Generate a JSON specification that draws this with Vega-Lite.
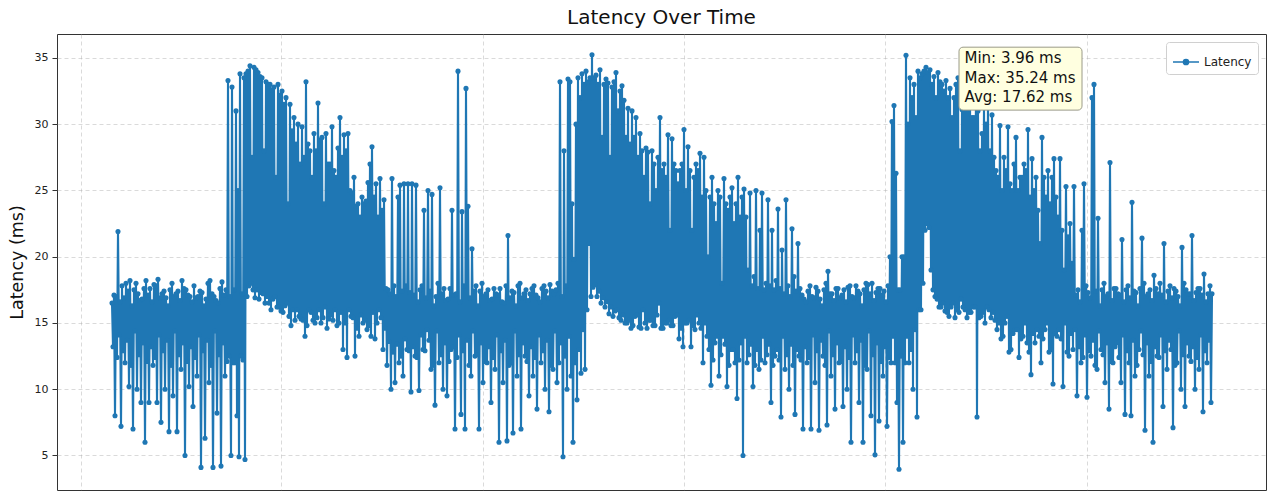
{
"$schema": "https://vega.github.io/schema/vega-lite/v6.json",
"width": 1209,
"height": 456,
"autosize": {"type": "none"},
"padding": {"left": 57, "top": 34, "right": 2, "bottom": 1},
"background": "white",
"title": {"text": "Latency Over Time", "fontSize": 20, "fontWeight": "normal", "anchor": "middle", "offset": 6, "color": "#111", "font": "DejaVu Sans"},
"config": {
  "font": "DejaVu Sans",
  "view": {"stroke": "#333", "strokeWidth": 1},
  "axis": {"domain": false, "gridColor": "#b0b0b0", "gridDash": [4, 3], "gridOpacity": 0.6, "gridWidth": 0.8, "tickColor": "#333", "tickSize": 5, "labelPadding": 4, "labelColor": "#222", "labelFontSize": 11, "titleFontWeight": "normal", "titleColor": "#111"}
},
"layer": [
{
"data": {"values": [
{"t":0,"ms":16.5},{"t":1,"ms":13.2},{"t":2,"ms":17.1},{"t":3,"ms":8.0},{"t":4,"ms":17.0},{"t":5,"ms":12.4},{"t":6,"ms":21.9},{"t":7,"ms":14.1},{"t":8,"ms":16.6},{"t":9,"ms":7.2},
{"t":10,"ms":17.8},{"t":11,"ms":12.9},{"t":12,"ms":16.9},{"t":13,"ms":12.0},{"t":14,"ms":18.0},{"t":15,"ms":13.7},{"t":16,"ms":17.4},{"t":17,"ms":10.2},{"t":18,"ms":18.2},{"t":19,"ms":11.8},
{"t":20,"ms":16.3},{"t":21,"ms":7.0},{"t":22,"ms":17.5},{"t":23,"ms":14.4},{"t":24,"ms":18.0},{"t":25,"ms":10.0},{"t":26,"ms":17.2},{"t":27,"ms":12.6},{"t":28,"ms":16.7},{"t":29,"ms":9.0},
{"t":30,"ms":16.8},{"t":31,"ms":13.5},{"t":32,"ms":17.6},{"t":33,"ms":6.0},{"t":34,"ms":18.2},{"t":35,"ms":12.1},{"t":36,"ms":17.1},{"t":37,"ms":9.0},{"t":38,"ms":17.6},{"t":39,"ms":13.2},
{"t":40,"ms":16.6},{"t":41,"ms":11.8},{"t":42,"ms":17.9},{"t":43,"ms":12.4},{"t":44,"ms":17.8},{"t":45,"ms":9.0},{"t":46,"ms":18.3},{"t":47,"ms":14.1},{"t":48,"ms":16.9},{"t":49,"ms":7.5},
{"t":50,"ms":17.2},{"t":51,"ms":12.9},{"t":52,"ms":17.4},{"t":53,"ms":10.0},{"t":54,"ms":16.9},{"t":55,"ms":13.7},{"t":56,"ms":16.3},{"t":57,"ms":6.8},{"t":58,"ms":17.5},{"t":59,"ms":11.8},
{"t":60,"ms":18.0},{"t":61,"ms":9.5},{"t":62,"ms":17.0},{"t":63,"ms":14.4},{"t":64,"ms":17.2},{"t":65,"ms":6.8},{"t":66,"ms":17.4},{"t":67,"ms":12.6},{"t":68,"ms":16.7},{"t":69,"ms":11.5},
{"t":70,"ms":18.2},{"t":71,"ms":13.5},{"t":72,"ms":17.6},{"t":73,"ms":5.0},{"t":74,"ms":17.5},{"t":75,"ms":12.1},{"t":76,"ms":17.1},{"t":77,"ms":10.2},{"t":78,"ms":17.0},{"t":79,"ms":13.2},
{"t":80,"ms":16.6},{"t":81,"ms":8.7},{"t":82,"ms":17.8},{"t":83,"ms":12.4},{"t":84,"ms":16.9},{"t":85,"ms":11.0},{"t":86,"ms":17.0},{"t":87,"ms":14.1},{"t":88,"ms":17.4},{"t":89,"ms":4.1},
{"t":90,"ms":17.3},{"t":91,"ms":12.9},{"t":92,"ms":16.3},{"t":93,"ms":6.3},{"t":94,"ms":16.8},{"t":95,"ms":13.7},{"t":96,"ms":18.0},{"t":97,"ms":10.5},{"t":98,"ms":18.2},{"t":99,"ms":11.8},
{"t":100,"ms":17.2},{"t":101,"ms":4.1},{"t":102,"ms":17.0},{"t":103,"ms":14.4},{"t":104,"ms":16.7},{"t":105,"ms":8.2},{"t":106,"ms":16.5},{"t":107,"ms":12.6},{"t":108,"ms":17.6},{"t":109,"ms":4.2},
{"t":110,"ms":18.1},{"t":111,"ms":13.5},{"t":112,"ms":17.1},{"t":113,"ms":11.0},{"t":114,"ms":17.5},{"t":115,"ms":12.1},{"t":116,"ms":33.3},{"t":117,"ms":12.5},{"t":118,"ms":17.0},{"t":119,"ms":5.0},
{"t":120,"ms":32.8},{"t":121,"ms":12.0},{"t":122,"ms":17.5},{"t":123,"ms":12.0},{"t":124,"ms":31.0},{"t":125,"ms":8.0},{"t":126,"ms":25.0},{"t":127,"ms":4.9},{"t":128,"ms":33.8},{"t":129,"ms":12.5},
{"t":130,"ms":17.2},{"t":131,"ms":12.2},{"t":132,"ms":33.5},{"t":133,"ms":4.7},{"t":134,"ms":33.8},{"t":135,"ms":17.0},{"t":136,"ms":34.0},{"t":137,"ms":17.8},{"t":138,"ms":34.4},{"t":139,"ms":18.0},
{"t":140,"ms":27.5},{"t":141,"ms":17.5},{"t":142,"ms":34.3},{"t":143,"ms":16.9},{"t":144,"ms":34.1},{"t":145,"ms":17.5},{"t":146,"ms":33.9},{"t":147,"ms":16.8},{"t":148,"ms":33.6},{"t":149,"ms":17.3},
{"t":150,"ms":33.5},{"t":151,"ms":17.2},{"t":152,"ms":28.0},{"t":153,"ms":16.5},{"t":154,"ms":33.2},{"t":155,"ms":17.0},{"t":156,"ms":33.0},{"t":157,"ms":16.5},{"t":158,"ms":33.0},{"t":159,"ms":16.0},
{"t":160,"ms":32.6},{"t":161,"ms":16.8},{"t":162,"ms":32.8},{"t":163,"ms":17.0},{"t":164,"ms":26.0},{"t":165,"ms":16.2},{"t":166,"ms":33.0},{"t":167,"ms":16.2},{"t":168,"ms":32.2},{"t":169,"ms":15.9},
{"t":170,"ms":32.5},{"t":171,"ms":15.8},{"t":172,"ms":31.5},{"t":173,"ms":16.3},{"t":174,"ms":32.0},{"t":175,"ms":16.5},{"t":176,"ms":24.0},{"t":177,"ms":15.5},{"t":178,"ms":31.5},{"t":179,"ms":14.8},
{"t":180,"ms":29.5},{"t":181,"ms":16.0},{"t":182,"ms":30.5},{"t":183,"ms":15.2},{"t":184,"ms":28.5},{"t":185,"ms":16.0},{"t":186,"ms":30.0},{"t":187,"ms":15.5},{"t":188,"ms":27.0},{"t":189,"ms":15.3},
{"t":190,"ms":29.8},{"t":191,"ms":15.2},{"t":192,"ms":27.5},{"t":193,"ms":14.0},{"t":194,"ms":33.2},{"t":195,"ms":14.8},{"t":196,"ms":28.5},{"t":197,"ms":16.0},{"t":198,"ms":28.0},{"t":199,"ms":15.8},
{"t":200,"ms":26.0},{"t":201,"ms":15.2},{"t":202,"ms":29.3},{"t":203,"ms":15.0},{"t":204,"ms":28.0},{"t":205,"ms":15.4},{"t":206,"ms":31.6},{"t":207,"ms":16.0},{"t":208,"ms":28.8},{"t":209,"ms":15.0},
{"t":210,"ms":29.0},{"t":211,"ms":15.4},{"t":212,"ms":24.0},{"t":213,"ms":16.2},{"t":214,"ms":29.3},{"t":215,"ms":14.6},{"t":216,"ms":27.0},{"t":217,"ms":15.3},{"t":218,"ms":27.0},{"t":219,"ms":15.6},
{"t":220,"ms":29.8},{"t":221,"ms":15.2},{"t":222,"ms":26.5},{"t":223,"ms":16.0},{"t":224,"ms":26.0},{"t":225,"ms":14.8},{"t":226,"ms":28.2},{"t":227,"ms":15.0},{"t":228,"ms":30.5},{"t":229,"ms":15.8},
{"t":230,"ms":27.5},{"t":231,"ms":13.0},{"t":232,"ms":29.2},{"t":233,"ms":15.0},{"t":234,"ms":28.0},{"t":235,"ms":12.4},{"t":236,"ms":29.3},{"t":237,"ms":16.0},{"t":238,"ms":25.0},{"t":239,"ms":15.5},
{"t":240,"ms":24.8},{"t":241,"ms":15.4},{"t":242,"ms":26.0},{"t":243,"ms":12.5},{"t":244,"ms":23.8},{"t":245,"ms":14.6},{"t":246,"ms":24.0},{"t":247,"ms":14.0},{"t":248,"ms":23.0},{"t":249,"ms":15.6},
{"t":250,"ms":24.5},{"t":251,"ms":15.0},{"t":252,"ms":24.0},{"t":253,"ms":15.2},{"t":254,"ms":24.2},{"t":255,"ms":14.5},{"t":256,"ms":25.6},{"t":257,"ms":14.8},{"t":258,"ms":27.0},{"t":259,"ms":14.0},
{"t":260,"ms":28.3},{"t":261,"ms":15.8},{"t":262,"ms":24.5},{"t":263,"ms":13.8},{"t":264,"ms":25.5},{"t":265,"ms":15.0},{"t":266,"ms":23.0},{"t":267,"ms":16.0},{"t":268,"ms":25.9},{"t":269,"ms":15.4},
{"t":270,"ms":23.5},{"t":271,"ms":13.0},{"t":272,"ms":24.3},{"t":273,"ms":14.6},{"t":274,"ms":17.6},{"t":275,"ms":11.8},{"t":276,"ms":17.5},{"t":277,"ms":13.6},{"t":278,"ms":17.2},{"t":279,"ms":10.0},
{"t":280,"ms":25.9},{"t":281,"ms":12.8},{"t":282,"ms":17.8},{"t":283,"ms":10.5},{"t":284,"ms":17.0},{"t":285,"ms":13.4},{"t":286,"ms":24.5},{"t":287,"ms":12.0},{"t":288,"ms":25.4},{"t":289,"ms":12.5},
{"t":290,"ms":17.4},{"t":291,"ms":11.0},{"t":292,"ms":25.5},{"t":293,"ms":13.8},{"t":294,"ms":17.8},{"t":295,"ms":13.0},{"t":296,"ms":25.5},{"t":297,"ms":12.9},{"t":298,"ms":17.3},{"t":299,"ms":9.8},
{"t":300,"ms":25.5},{"t":301,"ms":13.2},{"t":302,"ms":17.1},{"t":303,"ms":12.5},{"t":304,"ms":25.4},{"t":305,"ms":12.4},{"t":306,"ms":16.6},{"t":307,"ms":9.9},{"t":308,"ms":17.5},{"t":309,"ms":14.1},
{"t":310,"ms":17.8},{"t":311,"ms":13.0},{"t":312,"ms":23.5},{"t":313,"ms":12.9},{"t":314,"ms":16.9},{"t":315,"ms":14.5},{"t":316,"ms":25.0},{"t":317,"ms":13.7},{"t":318,"ms":17.4},{"t":319,"ms":11.5},
{"t":320,"ms":24.7},{"t":321,"ms":11.8},{"t":322,"ms":16.3},{"t":323,"ms":8.8},{"t":324,"ms":17.0},{"t":325,"ms":14.4},{"t":326,"ms":18.0},{"t":327,"ms":12.0},{"t":328,"ms":25.2},{"t":329,"ms":12.6},
{"t":330,"ms":17.2},{"t":331,"ms":10.0},{"t":332,"ms":17.6},{"t":333,"ms":13.5},{"t":334,"ms":16.7},{"t":335,"ms":9.5},{"t":336,"ms":16.8},{"t":337,"ms":12.1},{"t":338,"ms":17.6},{"t":339,"ms":13.0},
{"t":340,"ms":23.5},{"t":341,"ms":13.2},{"t":342,"ms":17.1},{"t":343,"ms":7.0},{"t":344,"ms":17.2},{"t":345,"ms":12.4},{"t":346,"ms":34.0},{"t":347,"ms":14.1},{"t":348,"ms":16.6},{"t":349,"ms":8.1},
{"t":350,"ms":23.4},{"t":351,"ms":12.9},{"t":352,"ms":17.8},{"t":353,"ms":7.0},{"t":354,"ms":32.7},{"t":355,"ms":13.7},{"t":356,"ms":23.8},{"t":357,"ms":11.8},{"t":358,"ms":16.9},{"t":359,"ms":11.0},
{"t":360,"ms":20.6},{"t":361,"ms":14.4},{"t":362,"ms":17.4},{"t":363,"ms":12.5},{"t":364,"ms":17.8},{"t":365,"ms":12.6},{"t":366,"ms":16.3},{"t":367,"ms":7.0},{"t":368,"ms":17.4},{"t":369,"ms":13.5},
{"t":370,"ms":18.0},{"t":371,"ms":10.5},{"t":372,"ms":17.0},{"t":373,"ms":12.1},{"t":374,"ms":17.2},{"t":375,"ms":12.0},{"t":376,"ms":17.5},{"t":377,"ms":13.2},{"t":378,"ms":16.7},{"t":379,"ms":9.0},
{"t":380,"ms":16.8},{"t":381,"ms":12.4},{"t":382,"ms":17.6},{"t":383,"ms":11.5},{"t":384,"ms":17.2},{"t":385,"ms":14.1},{"t":386,"ms":17.1},{"t":387,"ms":6.0},{"t":388,"ms":17.6},{"t":389,"ms":12.9},
{"t":390,"ms":16.6},{"t":391,"ms":10.5},{"t":392,"ms":16.5},{"t":393,"ms":13.7},{"t":394,"ms":17.8},{"t":395,"ms":6.1},{"t":396,"ms":21.6},{"t":397,"ms":11.8},{"t":398,"ms":16.9},{"t":399,"ms":12.0},
{"t":400,"ms":17.4},{"t":401,"ms":6.7},{"t":402,"ms":17.3},{"t":403,"ms":14.4},{"t":404,"ms":16.3},{"t":405,"ms":11.0},{"t":406,"ms":17.8},{"t":407,"ms":12.6},{"t":408,"ms":18.0},{"t":409,"ms":7.0},
{"t":410,"ms":16.9},{"t":411,"ms":13.5},{"t":412,"ms":17.2},{"t":413,"ms":12.5},{"t":414,"ms":17.5},{"t":415,"ms":12.1},{"t":416,"ms":16.7},{"t":417,"ms":9.5},{"t":418,"ms":17.2},{"t":419,"ms":13.2},
{"t":420,"ms":17.6},{"t":421,"ms":11.0},{"t":422,"ms":17.8},{"t":423,"ms":12.4},{"t":424,"ms":17.1},{"t":425,"ms":8.5},{"t":426,"ms":16.9},{"t":427,"ms":14.1},{"t":428,"ms":16.6},{"t":429,"ms":12.0},
{"t":430,"ms":17.6},{"t":431,"ms":12.9},{"t":432,"ms":17.8},{"t":433,"ms":10.0},{"t":434,"ms":17.4},{"t":435,"ms":13.7},{"t":436,"ms":16.9},{"t":437,"ms":8.3},{"t":438,"ms":17.9},{"t":439,"ms":11.8},
{"t":440,"ms":17.4},{"t":441,"ms":11.5},{"t":442,"ms":17.2},{"t":443,"ms":14.4},{"t":444,"ms":17.5},{"t":445,"ms":10.5},{"t":446,"ms":18.0},{"t":447,"ms":12.0},{"t":448,"ms":33.2},{"t":449,"ms":13.5},
{"t":450,"ms":17.0},{"t":451,"ms":4.9},{"t":452,"ms":28.0},{"t":453,"ms":12.5},{"t":454,"ms":17.8},{"t":455,"ms":10.0},{"t":456,"ms":33.4},{"t":457,"ms":14.0},{"t":458,"ms":33.2},{"t":459,"ms":11.0},
{"t":460,"ms":24.0},{"t":461,"ms":6.0},{"t":462,"ms":19.8},{"t":463,"ms":12.0},{"t":464,"ms":30.0},{"t":465,"ms":9.2},{"t":466,"ms":33.5},{"t":467,"ms":13.0},{"t":468,"ms":32.0},{"t":469,"ms":11.2},
{"t":470,"ms":33.8},{"t":471,"ms":14.5},{"t":472,"ms":33.0},{"t":473,"ms":11.5},{"t":474,"ms":34.0},{"t":475,"ms":16.0},{"t":476,"ms":33.2},{"t":477,"ms":21.0},{"t":478,"ms":33.5},{"t":479,"ms":17.0},
{"t":480,"ms":35.24},{"t":481,"ms":17.7},{"t":482,"ms":33.5},{"t":483,"ms":17.9},{"t":484,"ms":33.7},{"t":485,"ms":17.0},{"t":486,"ms":33.0},{"t":487,"ms":17.4},{"t":488,"ms":34.1},{"t":489,"ms":16.5},
{"t":490,"ms":29.0},{"t":491,"ms":16.9},{"t":492,"ms":33.0},{"t":493,"ms":16.2},{"t":494,"ms":33.4},{"t":495,"ms":16.6},{"t":496,"ms":33.1},{"t":497,"ms":15.7},{"t":498,"ms":27.5},{"t":499,"ms":16.2},
{"t":500,"ms":32.8},{"t":501,"ms":15.5},{"t":502,"ms":33.2},{"t":503,"ms":15.9},{"t":504,"ms":33.9},{"t":505,"ms":16.0},{"t":506,"ms":31.0},{"t":507,"ms":15.4},{"t":508,"ms":32.5},{"t":509,"ms":15.2},
{"t":510,"ms":32.9},{"t":511,"ms":15.6},{"t":512,"ms":31.8},{"t":513,"ms":15.0},{"t":514,"ms":29.0},{"t":515,"ms":15.0},{"t":516,"ms":31.2},{"t":517,"ms":15.2},{"t":518,"ms":28.5},{"t":519,"ms":14.6},
{"t":520,"ms":31.0},{"t":521,"ms":14.8},{"t":522,"ms":29.0},{"t":523,"ms":15.5},{"t":524,"ms":30.5},{"t":525,"ms":15.6},{"t":526,"ms":27.5},{"t":527,"ms":14.7},{"t":528,"ms":29.3},{"t":529,"ms":14.6},
{"t":530,"ms":28.0},{"t":531,"ms":16.0},{"t":532,"ms":26.0},{"t":533,"ms":15.0},{"t":534,"ms":28.2},{"t":535,"ms":14.6},{"t":536,"ms":27.9},{"t":537,"ms":15.2},{"t":538,"ms":24.0},{"t":539,"ms":15.2},
{"t":540,"ms":28.0},{"t":541,"ms":14.8},{"t":542,"ms":27.0},{"t":543,"ms":14.8},{"t":544,"ms":25.0},{"t":545,"ms":15.6},{"t":546,"ms":27.5},{"t":547,"ms":16.5},{"t":548,"ms":30.5},{"t":549,"ms":14.6},
{"t":550,"ms":26.5},{"t":551,"ms":14.6},{"t":552,"ms":27.0},{"t":553,"ms":15.0},{"t":554,"ms":26.0},{"t":555,"ms":15.0},{"t":556,"ms":29.2},{"t":557,"ms":15.2},{"t":558,"ms":22.0},{"t":559,"ms":14.8},
{"t":560,"ms":28.9},{"t":561,"ms":14.8},{"t":562,"ms":27.0},{"t":563,"ms":15.5},{"t":564,"ms":26.5},{"t":565,"ms":15.6},{"t":566,"ms":25.5},{"t":567,"ms":13.8},{"t":568,"ms":26.5},{"t":569,"ms":14.6},
{"t":570,"ms":27.0},{"t":571,"ms":13.2},{"t":572,"ms":29.6},{"t":573,"ms":15.0},{"t":574,"ms":25.0},{"t":575,"ms":15.0},{"t":576,"ms":28.3},{"t":577,"ms":15.2},{"t":578,"ms":26.5},{"t":579,"ms":13.2},
{"t":580,"ms":22.0},{"t":581,"ms":14.8},{"t":582,"ms":26.0},{"t":583,"ms":14.5},{"t":584,"ms":27.0},{"t":585,"ms":15.6},{"t":586,"ms":26.5},{"t":587,"ms":15.0},{"t":588,"ms":27.8},{"t":589,"ms":14.6},
{"t":590,"ms":24.5},{"t":591,"ms":12.0},{"t":592,"ms":27.5},{"t":593,"ms":15.0},{"t":594,"ms":25.0},{"t":595,"ms":14.0},{"t":596,"ms":20.0},{"t":597,"ms":13.0},{"t":598,"ms":24.5},{"t":599,"ms":10.3},
{"t":600,"ms":26.0},{"t":601,"ms":12.2},{"t":602,"ms":24.0},{"t":603,"ms":13.5},{"t":604,"ms":22.5},{"t":605,"ms":14.0},{"t":606,"ms":25.0},{"t":607,"ms":11.0},{"t":608,"ms":24.5},{"t":609,"ms":12.6},
{"t":610,"ms":18.0},{"t":611,"ms":14.0},{"t":612,"ms":25.9},{"t":613,"ms":13.4},{"t":614,"ms":24.0},{"t":615,"ms":10.2},{"t":616,"ms":23.5},{"t":617,"ms":11.8},{"t":618,"ms":24.5},{"t":619,"ms":13.0},
{"t":620,"ms":25.2},{"t":621,"ms":13.0},{"t":622,"ms":22.5},{"t":623,"ms":12.0},{"t":624,"ms":24.0},{"t":625,"ms":9.3},{"t":626,"ms":26.0},{"t":627,"ms":12.2},{"t":628,"ms":23.0},{"t":629,"ms":13.5},
{"t":630,"ms":24.5},{"t":631,"ms":5.0},{"t":632,"ms":25.1},{"t":633,"ms":14.0},{"t":634,"ms":23.0},{"t":635,"ms":12.0},{"t":636,"ms":19.0},{"t":637,"ms":12.6},{"t":638,"ms":24.8},{"t":639,"ms":13.4},
{"t":640,"ms":17.8},{"t":641,"ms":10.2},{"t":642,"ms":18.5},{"t":643,"ms":11.8},{"t":644,"ms":25.0},{"t":645,"ms":13.0},{"t":646,"ms":17.6},{"t":647,"ms":11.5},{"t":648,"ms":22.0},{"t":649,"ms":12.2},
{"t":650,"ms":24.8},{"t":651,"ms":14.0},{"t":652,"ms":17.5},{"t":653,"ms":12.0},{"t":654,"ms":18.0},{"t":655,"ms":12.6},{"t":656,"ms":24.3},{"t":657,"ms":13.4},{"t":658,"ms":17.8},{"t":659,"ms":9.0},
{"t":660,"ms":22.0},{"t":661,"ms":11.8},{"t":662,"ms":17.5},{"t":663,"ms":12.5},{"t":664,"ms":18.2},{"t":665,"ms":13.0},{"t":666,"ms":23.6},{"t":667,"ms":12.2},{"t":668,"ms":17.6},{"t":669,"ms":7.9},
{"t":670,"ms":20.5},{"t":671,"ms":14.0},{"t":672,"ms":17.2},{"t":673,"ms":11.5},{"t":674,"ms":24.3},{"t":675,"ms":12.6},{"t":676,"ms":17.8},{"t":677,"ms":10.0},{"t":678,"ms":17.0},{"t":679,"ms":13.4},
{"t":680,"ms":22.1},{"t":681,"ms":11.8},{"t":682,"ms":18.5},{"t":683,"ms":8.1},{"t":684,"ms":17.4},{"t":685,"ms":13.0},{"t":686,"ms":21.0},{"t":687,"ms":12.5},{"t":688,"ms":17.6},{"t":689,"ms":12.2},
{"t":690,"ms":17.1},{"t":691,"ms":7.0},{"t":692,"ms":16.8},{"t":693,"ms":13.2},{"t":694,"ms":16.6},{"t":695,"ms":12.0},{"t":696,"ms":17.4},{"t":697,"ms":12.4},{"t":698,"ms":17.8},{"t":699,"ms":7.0},
{"t":700,"ms":17.0},{"t":701,"ms":14.1},{"t":702,"ms":16.9},{"t":703,"ms":10.5},{"t":704,"ms":17.7},{"t":705,"ms":12.9},{"t":706,"ms":17.4},{"t":707,"ms":6.9},{"t":708,"ms":16.8},{"t":709,"ms":13.7},
{"t":710,"ms":16.3},{"t":711,"ms":12.5},{"t":712,"ms":17.5},{"t":713,"ms":11.8},{"t":714,"ms":18.0},{"t":715,"ms":7.3},{"t":716,"ms":18.9},{"t":717,"ms":14.4},{"t":718,"ms":17.2},{"t":719,"ms":11.0},
{"t":720,"ms":17.2},{"t":721,"ms":12.6},{"t":722,"ms":16.7},{"t":723,"ms":8.5},{"t":724,"ms":17.6},{"t":725,"ms":13.5},{"t":726,"ms":17.6},{"t":727,"ms":12.0},{"t":728,"ms":16.9},{"t":729,"ms":12.1},
{"t":730,"ms":17.1},{"t":731,"ms":8.7},{"t":732,"ms":17.5},{"t":733,"ms":13.2},{"t":734,"ms":16.6},{"t":735,"ms":10.0},{"t":736,"ms":17.7},{"t":737,"ms":12.4},{"t":738,"ms":17.8},{"t":739,"ms":6.0},
{"t":740,"ms":17.0},{"t":741,"ms":14.1},{"t":742,"ms":16.9},{"t":743,"ms":12.0},{"t":744,"ms":17.8},{"t":745,"ms":12.9},{"t":746,"ms":17.4},{"t":747,"ms":9.0},{"t":748,"ms":17.2},{"t":749,"ms":13.7},
{"t":750,"ms":16.3},{"t":751,"ms":6.0},{"t":752,"ms":17.5},{"t":753,"ms":11.8},{"t":754,"ms":18.0},{"t":755,"ms":11.5},{"t":756,"ms":17.9},{"t":757,"ms":14.4},{"t":758,"ms":17.2},{"t":759,"ms":8.0},
{"t":760,"ms":18.0},{"t":761,"ms":12.6},{"t":762,"ms":16.7},{"t":763,"ms":5.05},{"t":764,"ms":17.3},{"t":765,"ms":13.5},{"t":766,"ms":17.6},{"t":767,"ms":7.6},{"t":768,"ms":17.6},{"t":769,"ms":12.1},
{"t":770,"ms":17.1},{"t":771,"ms":11.0},{"t":772,"ms":17.4},{"t":773,"ms":13.2},{"t":774,"ms":16.6},{"t":775,"ms":7.2},{"t":776,"ms":17.8},{"t":777,"ms":12.4},{"t":778,"ms":20.0},{"t":779,"ms":12.0},
{"t":780,"ms":30.2},{"t":781,"ms":14.0},{"t":782,"ms":31.4},{"t":783,"ms":12.0},{"t":784,"ms":26.3},{"t":785,"ms":9.0},{"t":786,"ms":17.5},{"t":787,"ms":3.96},{"t":788,"ms":17.5},{"t":789,"ms":12.5},
{"t":790,"ms":20.0},{"t":791,"ms":6.0},{"t":792,"ms":20.0},{"t":793,"ms":12.0},{"t":794,"ms":35.2},{"t":795,"ms":14.0},{"t":796,"ms":30.0},{"t":797,"ms":12.0},{"t":798,"ms":33.5},{"t":799,"ms":13.0},
{"t":800,"ms":32.0},{"t":801,"ms":10.0},{"t":802,"ms":33.0},{"t":803,"ms":14.5},{"t":804,"ms":30.5},{"t":805,"ms":7.9},{"t":806,"ms":34.0},{"t":807,"ms":16.0},{"t":808,"ms":33.5},{"t":809,"ms":16.0},
{"t":810,"ms":33.8},{"t":811,"ms":18.0},{"t":812,"ms":34.0},{"t":813,"ms":22.0},{"t":814,"ms":34.3},{"t":815,"ms":22.5},{"t":816,"ms":33.9},{"t":817,"ms":22.2},{"t":818,"ms":34.1},{"t":819,"ms":19.0},
{"t":820,"ms":33.0},{"t":821,"ms":17.5},{"t":822,"ms":33.6},{"t":823,"ms":17.0},{"t":824,"ms":32.0},{"t":825,"ms":16.8},{"t":826,"ms":33.9},{"t":827,"ms":16.2},{"t":828,"ms":33.2},{"t":829,"ms":16.2},
{"t":830,"ms":33.0},{"t":831,"ms":16.5},{"t":832,"ms":32.5},{"t":833,"ms":15.9},{"t":834,"ms":33.3},{"t":835,"ms":15.8},{"t":836,"ms":32.0},{"t":837,"ms":15.5},{"t":838,"ms":32.7},{"t":839,"ms":16.2},
{"t":840,"ms":30.5},{"t":841,"ms":16.5},{"t":842,"ms":32.0},{"t":843,"ms":15.4},{"t":844,"ms":33.0},{"t":845,"ms":16.0},{"t":846,"ms":33.5},{"t":847,"ms":15.8},{"t":848,"ms":28.0},{"t":849,"ms":16.8},
{"t":850,"ms":31.1},{"t":851,"ms":16.2},{"t":852,"ms":31.5},{"t":853,"ms":16.0},{"t":854,"ms":33.0},{"t":855,"ms":15.4},{"t":856,"ms":32.0},{"t":857,"ms":15.8},{"t":858,"ms":32.0},{"t":859,"ms":15.8},
{"t":860,"ms":30.5},{"t":861,"ms":16.2},{"t":862,"ms":30.5},{"t":863,"ms":16.2},{"t":864,"ms":33.0},{"t":865,"ms":7.9},{"t":866,"ms":31.0},{"t":867,"ms":15.4},{"t":868,"ms":28.0},{"t":869,"ms":15.5},
{"t":870,"ms":29.3},{"t":871,"ms":15.8},{"t":872,"ms":31.5},{"t":873,"ms":15.0},{"t":874,"ms":30.0},{"t":875,"ms":16.2},{"t":876,"ms":32.0},{"t":877,"ms":16.0},{"t":878,"ms":28.0},{"t":879,"ms":15.4},
{"t":880,"ms":30.7},{"t":881,"ms":15.8},{"t":882,"ms":27.5},{"t":883,"ms":15.2},{"t":884,"ms":26.5},{"t":885,"ms":14.5},{"t":886,"ms":26.0},{"t":887,"ms":15.0},{"t":888,"ms":29.9},{"t":889,"ms":13.8},
{"t":890,"ms":25.0},{"t":891,"ms":14.0},{"t":892,"ms":27.5},{"t":893,"ms":15.0},{"t":894,"ms":26.5},{"t":895,"ms":15.5},{"t":896,"ms":29.8},{"t":897,"ms":12.8},{"t":898,"ms":25.5},{"t":899,"ms":13.0},
{"t":900,"ms":25.0},{"t":901,"ms":14.2},{"t":902,"ms":27.0},{"t":903,"ms":14.5},{"t":904,"ms":29.0},{"t":905,"ms":14.5},{"t":906,"ms":25.0},{"t":907,"ms":12.4},{"t":908,"ms":26.0},{"t":909,"ms":13.8},
{"t":910,"ms":26.0},{"t":911,"ms":14.0},{"t":912,"ms":27.0},{"t":913,"ms":15.0},{"t":914,"ms":26.5},{"t":915,"ms":13.5},{"t":916,"ms":29.6},{"t":917,"ms":12.8},{"t":918,"ms":24.5},{"t":919,"ms":11.1},
{"t":920,"ms":27.4},{"t":921,"ms":14.2},{"t":922,"ms":25.0},{"t":923,"ms":13.5},{"t":924,"ms":26.0},{"t":925,"ms":14.5},{"t":926,"ms":23.5},{"t":927,"ms":14.0},{"t":928,"ms":21.0},{"t":929,"ms":12.0},
{"t":930,"ms":29.0},{"t":931,"ms":13.8},{"t":932,"ms":26.0},{"t":933,"ms":14.5},{"t":934,"ms":24.5},{"t":935,"ms":15.0},{"t":936,"ms":26.5},{"t":937,"ms":12.8},{"t":938,"ms":24.0},{"t":939,"ms":13.0},
{"t":940,"ms":26.0},{"t":941,"ms":10.4},{"t":942,"ms":27.4},{"t":943,"ms":14.2},{"t":944,"ms":24.5},{"t":945,"ms":14.0},{"t":946,"ms":23.0},{"t":947,"ms":14.5},{"t":948,"ms":27.4},{"t":949,"ms":13.8},
{"t":950,"ms":22.0},{"t":951,"ms":10.2},{"t":952,"ms":19.0},{"t":953,"ms":15.0},{"t":954,"ms":25.3},{"t":955,"ms":12.8},{"t":956,"ms":21.5},{"t":957,"ms":12.5},{"t":958,"ms":22.5},{"t":959,"ms":14.2},
{"t":960,"ms":19.5},{"t":961,"ms":13.0},{"t":962,"ms":25.3},{"t":963,"ms":14.5},{"t":964,"ms":17.1},{"t":965,"ms":9.5},{"t":966,"ms":17.5},{"t":967,"ms":13.2},{"t":968,"ms":16.6},{"t":969,"ms":12.0},
{"t":970,"ms":22.0},{"t":971,"ms":12.4},{"t":972,"ms":25.5},{"t":973,"ms":14.1},{"t":974,"ms":17.8},{"t":975,"ms":9.4},{"t":976,"ms":17.3},{"t":977,"ms":12.9},{"t":978,"ms":16.9},{"t":979,"ms":12.5},
{"t":980,"ms":32.0},{"t":981,"ms":13.7},{"t":982,"ms":33.0},{"t":983,"ms":11.8},{"t":984,"ms":17.4},{"t":985,"ms":11.5},{"t":986,"ms":22.9},{"t":987,"ms":14.4},{"t":988,"ms":16.3},{"t":989,"ms":13.0},
{"t":990,"ms":17.5},{"t":991,"ms":12.6},{"t":992,"ms":18.0},{"t":993,"ms":10.5},{"t":994,"ms":17.0},{"t":995,"ms":13.5},{"t":996,"ms":17.2},{"t":997,"ms":8.5},{"t":998,"ms":27.1},{"t":999,"ms":12.1},
{"t":1000,"ms":16.7},{"t":1001,"ms":12.0},{"t":1002,"ms":17.6},{"t":1003,"ms":13.2},{"t":1004,"ms":17.6},{"t":1005,"ms":13.5},{"t":1006,"ms":17.2},{"t":1007,"ms":12.4},{"t":1008,"ms":17.1},{"t":1009,"ms":10.5},
{"t":1010,"ms":21.3},{"t":1011,"ms":14.1},{"t":1012,"ms":16.6},{"t":1013,"ms":8.1},{"t":1014,"ms":17.5},{"t":1015,"ms":12.9},{"t":1016,"ms":17.8},{"t":1017,"ms":12.0},{"t":1018,"ms":16.9},{"t":1019,"ms":8.0},
{"t":1020,"ms":24.1},{"t":1021,"ms":13.7},{"t":1022,"ms":17.4},{"t":1023,"ms":11.0},{"t":1024,"ms":17.3},{"t":1025,"ms":11.8},{"t":1026,"ms":16.3},{"t":1027,"ms":13.0},{"t":1028,"ms":17.6},{"t":1029,"ms":14.4},
{"t":1030,"ms":21.4},{"t":1031,"ms":12.6},{"t":1032,"ms":18.0},{"t":1033,"ms":6.9},{"t":1034,"ms":17.0},{"t":1035,"ms":13.5},{"t":1036,"ms":17.2},{"t":1037,"ms":11.0},{"t":1038,"ms":17.5},{"t":1039,"ms":12.1},
{"t":1040,"ms":16.7},{"t":1041,"ms":6.0},{"t":1042,"ms":18.6},{"t":1043,"ms":13.2},{"t":1044,"ms":17.6},{"t":1045,"ms":12.5},{"t":1046,"ms":17.2},{"t":1047,"ms":12.4},{"t":1048,"ms":18.0},{"t":1049,"ms":14.1},
{"t":1050,"ms":17.1},{"t":1051,"ms":8.7},{"t":1052,"ms":21.0},{"t":1053,"ms":12.9},{"t":1054,"ms":16.6},{"t":1055,"ms":11.5},{"t":1056,"ms":17.4},{"t":1057,"ms":13.7},{"t":1058,"ms":17.8},{"t":1059,"ms":13.0},
{"t":1060,"ms":16.9},{"t":1061,"ms":7.1},{"t":1062,"ms":17.6},{"t":1063,"ms":11.8},{"t":1064,"ms":17.4},{"t":1065,"ms":12.0},{"t":1066,"ms":17.0},{"t":1067,"ms":14.4},{"t":1068,"ms":16.3},{"t":1069,"ms":10.0},
{"t":1070,"ms":20.7},{"t":1071,"ms":12.6},{"t":1072,"ms":18.0},{"t":1073,"ms":8.7},{"t":1074,"ms":17.5},{"t":1075,"ms":13.5},{"t":1076,"ms":17.2},{"t":1077,"ms":12.5},{"t":1078,"ms":17.2},{"t":1079,"ms":12.1},
{"t":1080,"ms":21.6},{"t":1081,"ms":13.2},{"t":1082,"ms":16.7},{"t":1083,"ms":10.0},{"t":1084,"ms":17.3},{"t":1085,"ms":12.4},{"t":1086,"ms":17.6},{"t":1087,"ms":11.5},{"t":1088,"ms":17.6},{"t":1089,"ms":14.1},
{"t":1090,"ms":17.1},{"t":1091,"ms":8.3},{"t":1092,"ms":18.7},{"t":1093,"ms":12.9},{"t":1094,"ms":16.6},{"t":1095,"ms":12.0},{"t":1096,"ms":17.2},{"t":1097,"ms":13.7},{"t":1098,"ms":17.8},{"t":1099,"ms":9.0},
{"t":1100,"ms":17.2}
]},
"mark": {"type": "line", "strokeWidth": 2.1, "point": {"filled": true, "size": 26}},
"encoding": {
  "x": {"field": "t", "type": "quantitative", "scale": {"domain": [-55, 1154], "nice": false, "zero": false}, "axis": {"values": [-31, 169, 371, 572, 773, 975], "labels": false, "title": null, "grid": true}},
  "y": {"field": "ms", "type": "quantitative", "scale": {"domain": [2.396, 36.804], "nice": false, "zero": false}, "axis": {"values": [5, 10, 15, 20, 25, 30, 35], "title": "Latency (ms)", "titleFontSize": 17.5, "titlePadding": 8, "grid": true}},
  "color": {"datum": "Latency", "type": "nominal", "scale": {"range": ["#1f77b4"]}, "legend": {"title": null, "orient": "top-right", "offset": 8, "padding": 6, "strokeColor": "#d0d0d0", "fillColor": "white", "cornerRadius": 3, "labelFontSize": 12, "labelColor": "#222", "symbolType": "M-1,0H1M0.2,0A0.2,0.2,0,1,1,-0.2,0A0.2,0.2,0,1,1,0.2,0Z", "symbolSize": 676, "symbolStrokeWidth": 1.5, "symbolFillColor": "#1f77b4", "symbolStrokeColor": "#1f77b4"}}
}
},
{
"data": {"values": [{"t": 847, "t2": 970, "ms": 35.81, "ms2": 31.06}]},
"mark": {"type": "rect", "fill": "#ffffe0", "stroke": "#9a9a88", "strokeWidth": 1, "cornerRadius": 4},
"encoding": {
  "x": {"field": "t", "type": "quantitative"},
  "x2": {"field": "t2"},
  "y": {"field": "ms", "type": "quantitative"},
  "y2": {"field": "ms2"}
}
},
{
"data": {"values": [
  {"t": 852.5, "ms": 34.98, "label": "Min: 3.96 ms"},
  {"t": 852.5, "ms": 33.47, "label": "Max: 35.24 ms"},
  {"t": 852.5, "ms": 32.04, "label": "Avg: 17.62 ms"}
]},
"mark": {"type": "text", "align": "left", "baseline": "middle", "fontSize": 15, "color": "#111", "font": "DejaVu Sans"},
"encoding": {
  "x": {"field": "t", "type": "quantitative"},
  "y": {"field": "ms", "type": "quantitative"},
  "text": {"field": "label"}
}
}
]
}
